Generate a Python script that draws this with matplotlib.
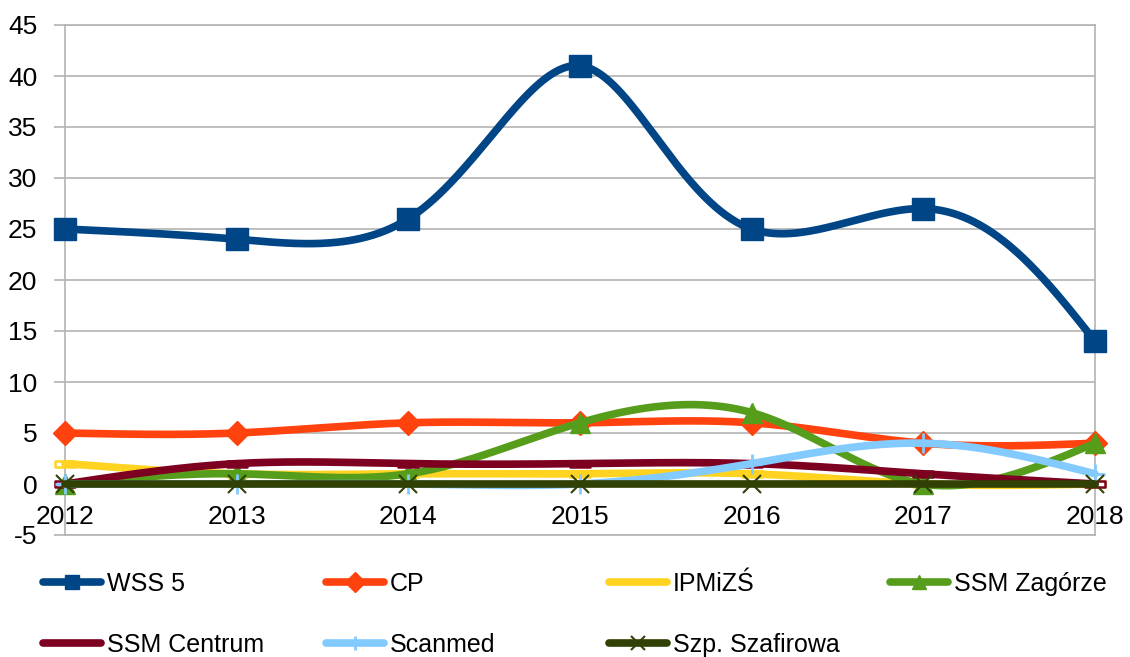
import numpy as np
import matplotlib
matplotlib.use("Agg")
import matplotlib.pyplot as plt
from matplotlib.path import Path

plt.rcParams['font.family'] = ['Liberation Sans', 'DejaVu Sans']
plt.rcParams['axes.unicode_minus'] = False

years = [2012, 2013, 2014, 2015, 2016, 2017, 2018]
series_names = ["WSS 5", "CP", "IPMiZŚ", "SSM Zagórze", "SSM Centrum", "Scanmed", "Szp. Szafirowa"]
wss5 = [25, 24, 26, 41, 25, 27, 14]
cp = [5, 5, 6, 6, 6, 4, 4]
ipmizs = [2, 1, 1, 1, 1, 0, 0]
ssm_zagorze = [0, 1, 1, 6, 7, 0, 4]
ssm_centrum = [0, 2, 2, 2, 2, 1, 0]
scanmed = [0, 0, 0, 0, 2, 4, 1]
szafirowa = [0, 0, 0, 0, 0, 0, 0]
y_ticks = list(range(-5, 50, 5))

colors = ["#004586", "#ff420e", "#ffd320", "#579d1c", "#7e0021", "#83caff", "#314004"]
bar_marker = Path([(-1, -0.25), (1, -0.25), (1, 0.25), (-1, 0.25), (-1, -0.25)],
                  [Path.MOVETO, Path.LINETO, Path.LINETO, Path.LINETO, Path.CLOSEPOLY])
marker_styles = [
    dict(marker='s', markersize=15.5),
    dict(marker='D', markersize=12),
    dict(marker=bar_marker, markersize=15, markerfacecolor='white', markeredgewidth=1.8),
    dict(marker='^', markersize=15),
    dict(marker=bar_marker, markersize=15, markerfacecolor='white', markeredgewidth=1.8),
    dict(marker='+', markersize=14, markeredgewidth=2),
    dict(marker='x', markersize=13, markeredgewidth=1.5),
]
under_line = [False, False, True, False, True, False, False]

fig = plt.figure(figsize=(11.3, 6.57), dpi=100)
ax_l, ax_b = 65 / 1130, 1 - 535 / 657
ax_w, ax_h = (1095 - 65) / 1130, (535 - 25) / 657
ax = fig.add_axes([ax_l, ax_b, ax_w, ax_h])
ax.set_xlim(years[0], years[-1])
ax.set_ylim(-5, 45)

# pixel scale for chord-length parameterisation
px_x = ax_w * 1130 / (years[-1] - years[0])
px_y = ax_h * 657 / 50.0


def nat_spline_coeffs(t, v):
    k = len(t)
    h = np.diff(t)
    A = np.zeros((k, k))
    b = np.zeros(k)
    A[0, 0] = 1
    A[-1, -1] = 1
    for i in range(1, k - 1):
        A[i, i - 1] = h[i - 1]
        A[i, i] = 2 * (h[i - 1] + h[i])
        A[i, i + 1] = h[i]
        b[i] = 6 * ((v[i + 1] - v[i]) / h[i] - (v[i] - v[i - 1]) / h[i - 1])
    return np.linalg.solve(A, b)


def eval_spline(t, v, M, ts):
    k = len(t)
    h = np.diff(t)
    out = np.empty_like(ts)
    for j, s in enumerate(ts):
        i = min(max(np.searchsorted(t, s, side='right') - 1, 0), k - 2)
        a = t[i + 1] - s
        c = s - t[i]
        out[j] = (M[i] * a ** 3 + M[i + 1] * c ** 3) / (6 * h[i]) \
            + (v[i] / h[i] - M[i] * h[i] / 6) * a + (v[i + 1] / h[i] - M[i + 1] * h[i] / 6) * c
    return out


def param_spline(x, y, n=600):
    x = np.asarray(x, float)
    y = np.asarray(y, float)
    d = np.hypot(np.diff(x) * px_x, np.diff(y) * px_y)
    t = np.concatenate([[0], np.cumsum(d)])
    ts = np.linspace(0, t[-1], n)
    xs = eval_spline(t, x, nat_spline_coeffs(t, x), ts)
    ys = eval_spline(t, y, nat_spline_coeffs(t, y), ts)
    return xs, ys


data = [wss5, cp, ipmizs, ssm_zagorze, ssm_centrum, scanmed, szafirowa]
handles = []
for i, (name, vals, col, ms) in enumerate(zip(series_names, data, colors, marker_styles)):
    z = 3 + i * 0.1
    xs, ys = param_spline(years, vals)
    ax.plot(xs, ys, color=col, lw=5.5, solid_capstyle='round', clip_on=False, zorder=z)
    kw = dict(ms)
    kw.setdefault('markerfacecolor', col)
    ax.plot(years, vals, linestyle='none', color=col, markeredgecolor=col, clip_on=False,
            zorder=z - 0.01 if under_line[i] else z + 0.01, **kw)
    if under_line[i]:
        h, = ax.plot([], [], color=col, lw=5.5, solid_capstyle='round')
    else:
        lkw = {k: v for k, v in kw.items() if k != 'markersize'}
        h, = ax.plot([], [], color=col, lw=5.5, solid_capstyle='round',
                     markeredgecolor=col, markersize=10, **lkw)
    handles.append(h)

ax.set_yticks(y_ticks)
ax.yaxis.grid(True, color='#b3b3b3', lw=1.2)
ax.set_axisbelow(True)
for s in ax.spines.values():
    s.set_color('#b3b3b3')
    s.set_linewidth(1.2)
ax.tick_params(axis='y', length=8, color='#b3b3b3', width=1.2, labelsize=19, pad=12)
ax.tick_params(axis='x', length=0, labelbottom=False)
ax.set_xticks(years)

sec = ax.secondary_xaxis(0.1)
sec.set_xticks(years)
sec.set_xticklabels([str(y) for y in years])
sec.spines['bottom'].set_visible(False)
sec.tick_params(length=0, labelsize=19, pad=15)

col_x = [43, 326, 609, 890]
cols = [[0, 4], [1, 5], [2, 6], [3]]
for cx, idx in zip(col_x, cols):
    fig.legend([handles[i] for i in idx], [series_names[i] for i in idx],
               loc='upper left', bbox_to_anchor=(cx / 1130, 1 - 572 / 657),
               frameon=False, fontsize=18, handlelength=2.3, handletextpad=0.25,
               labelspacing=1.47, borderpad=0, borderaxespad=0)

fig.savefig("out.png", dpi=100)
